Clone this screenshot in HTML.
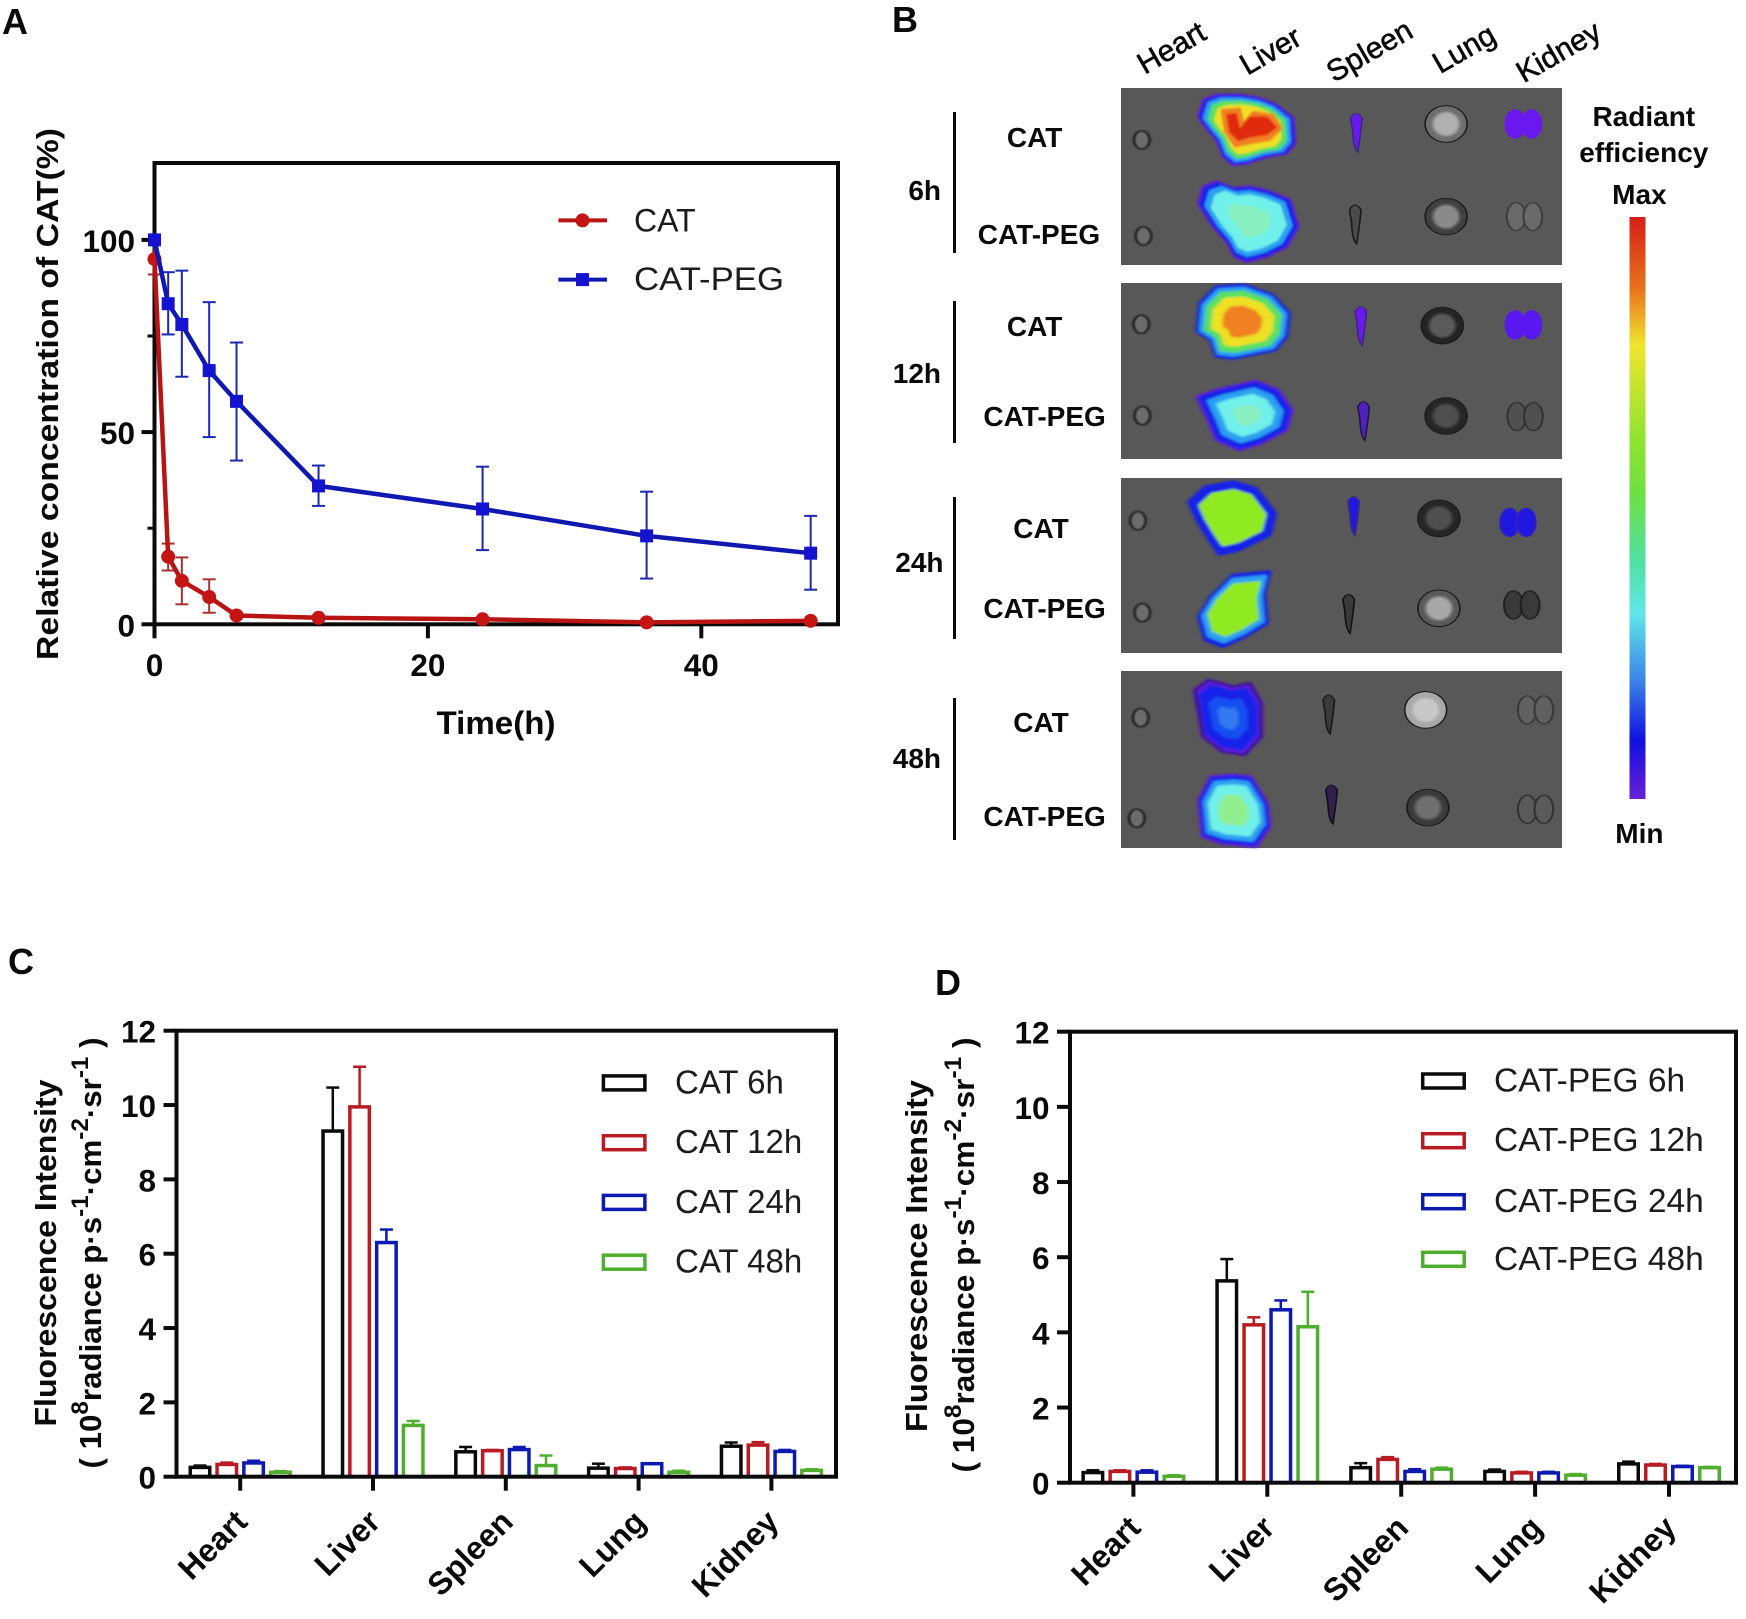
<!DOCTYPE html>
<html lang="en">
<head>
<meta charset="utf-8">
<title>CAT and CAT-PEG biodistribution figure</title>
<style>
html,body{margin:0;padding:0;background:#fff;width:1746px;height:1619px;overflow:hidden}
svg{display:block}
text{font-family:"Liberation Sans",Arial,sans-serif;fill:#0a0a0a}
.b{font-weight:700}
.tick{font-weight:700;font-size:31.5px}
.row{font-weight:700;font-size:28px;text-anchor:middle}
.tm{font-weight:700;font-size:28px;text-anchor:end}
.org{font-size:30px;text-anchor:middle;stroke:#0a0a0a;stroke-width:0.6px}
.let{font-weight:700;font-size:36px}
.leg{fill:#1c1c1c}
.ttl{font-weight:700;font-size:31px;text-anchor:middle}
</style>
</head>
<body>
<svg id="fig" xmlns="http://www.w3.org/2000/svg" width="1746" height="1619" viewBox="0 0 1746 1619">
  <defs>
    <linearGradient id="cbar" x1="0" y1="0" x2="0" y2="1">
      <stop offset="0" stop-color="#d42018"/>
      <stop offset="0.12" stop-color="#e8701c"/>
      <stop offset="0.22" stop-color="#f0e430"/>
      <stop offset="0.38" stop-color="#90e430"/>
      <stop offset="0.47" stop-color="#70e040"/>
      <stop offset="0.59" stop-color="#50e0a0"/>
      <stop offset="0.68" stop-color="#60e8e8"/>
      <stop offset="0.80" stop-color="#3a80e8"/>
      <stop offset="0.90" stop-color="#1010e0"/>
      <stop offset="1" stop-color="#6a20d8"/>
    </linearGradient>
    <filter id="soft" x="-15%" y="-15%" width="130%" height="130%"><feGaussianBlur stdDeviation="3"/></filter>
    <filter id="softer" x="-30%" y="-30%" width="160%" height="160%"><feGaussianBlur stdDeviation="1.5"/></filter>
  </defs>

  <text class="let" x="2" y="34">A</text>
  <text class="let" x="892" y="32">B</text>
  <text class="let" x="8" y="974">C</text>
  <text class="let" x="935" y="995">D</text>

  <g id="panelA"></g>

  <g id="panelB">
    <rect x="1121" y="88" width="441" height="177" fill="#585858"/>
    <rect x="1121" y="283" width="441" height="176" fill="#585858"/>
    <rect x="1121" y="478" width="441" height="175" fill="#585858"/>
    <rect x="1121" y="671" width="441" height="177" fill="#585858"/>
    <g id="organs1" transform="translate(880,0) scale(0.5523,0.3333)"></g>
    <g id="organs2" transform="translate(880,460) scale(0.5523,0.3333)"></g>
    <g id="organs0" transform="translate(1110,0) scale(0.3333)"></g>

    <text class="org" transform="translate(1176.5,56.5) rotate(-30)">Heart</text>
    <text class="org" transform="translate(1275.5,59.5) rotate(-30)">Liver</text>
    <text class="org" transform="translate(1374.5,59.5) rotate(-30)">Spleen</text>
    <text class="org" transform="translate(1469,57.5) rotate(-30)">Lung</text>
    <text class="org" transform="translate(1563.5,60.5) rotate(-30)">Kidney</text>

    <text class="row" x="1034.6" y="147">CAT</text>
    <text class="row" x="1039" y="244">CAT-PEG</text>
    <text class="row" x="1034.6" y="336">CAT</text>
    <text class="row" x="1044.6" y="426">CAT-PEG</text>
    <text class="row" x="1041" y="538">CAT</text>
    <text class="row" x="1044.6" y="618">CAT-PEG</text>
    <text class="row" x="1041" y="732">CAT</text>
    <text class="row" x="1044.6" y="826">CAT-PEG</text>

    <text class="tm" x="941" y="200">6h</text>
    <text class="tm" x="941" y="383">12h</text>
    <text class="tm" x="943.5" y="572">24h</text>
    <text class="tm" x="941" y="768">48h</text>

    <rect x="953" y="112" width="3" height="141" fill="#0a0a0a"/>
    <rect x="953" y="301" width="3" height="142" fill="#0a0a0a"/>
    <rect x="953" y="497" width="3" height="142" fill="#0a0a0a"/>
    <rect x="953" y="698" width="3" height="142" fill="#0a0a0a"/>

    <text class="row" x="1643.8" y="126">Radiant</text>
    <text class="row" x="1643.8" y="162">efficiency</text>
    <text class="row" x="1639.4" y="204">Max</text>
    <rect x="1629.5" y="217" width="16" height="582" fill="url(#cbar)"/>
    <text class="row" x="1639.4" y="843">Min</text>
  </g>

  <g id="panelC"></g>
  <g id="panelD"></g>
</svg>

<script>
// ---------- Panel A data ----------
const timesA = [0, 1, 2, 4, 6, 12, 24, 36, 48];
const catValues = [95, 17.6, 11.3, 7.1, 2.3, 1.7, 1.3, 0.5, 0.9];
const catUpper = [99, 21, 17.4, 11.7, 2.8, 2.1, 1.6, 0.7, 1.1];
const catLower = [91, 14, 5.2, 3, 1.9, 1.4, 1.0, 0.3, 0.7];
const pegValues = [100, 83.4, 78, 66, 58, 36, 30, 23, 18.5];
const pegUpper = [100.5, 91.6, 92, 83.8, 73.3, 41.3, 41, 34.5, 28.2];
const pegLower = [99.5, 75.4, 64.4, 48.7, 42.6, 30.8, 19.3, 11.9, 9];
const xTicksA = [0, 20, 40];
const yTicksA = [0, 50, 100];
const yMinorTicksA = [25, 75];
const seriesNamesA = ["CAT", "CAT-PEG"];

// ---------- Panels C / D data ----------
const organs = ["Heart", "Liver", "Spleen", "Lung", "Kidney"];
const barTicks = [0, 2, 4, 6, 8, 10, 12];
const legendC = ["CAT 6h", "CAT 12h", "CAT 24h", "CAT 48h"];
const legendD = ["CAT-PEG 6h", "CAT-PEG 12h", "CAT-PEG 24h", "CAT-PEG 48h"];
const cat6h = [0.25, 9.3, 0.67, 0.23, 0.82];
const cat12h = [0.33, 9.95, 0.7, 0.22, 0.85];
const cat24h = [0.37, 6.3, 0.73, 0.35, 0.68];
const cat48h = [0.12, 1.38, 0.3, 0.12, 0.17];
const cat6hTop = [0.3, 10.47, 0.8, 0.35, 0.92];
const cat12hTop = [0.38, 11.03, 0.72, 0.25, 0.93];
const cat24hTop = [0.43, 6.65, 0.8, 0.36, 0.72];
const cat48hTop = [0.15, 1.5, 0.57, 0.16, 0.2];
const peg6h = [0.27, 5.37, 0.4, 0.3, 0.5];
const peg12h = [0.3, 4.2, 0.62, 0.26, 0.47];
const peg24h = [0.28, 4.6, 0.3, 0.26, 0.43];
const peg48h = [0.17, 4.15, 0.36, 0.2, 0.4];
const peg6hTop = [0.33, 5.95, 0.52, 0.35, 0.56];
const peg12hTop = [0.33, 4.4, 0.68, 0.29, 0.5];
const peg24hTop = [0.33, 4.85, 0.36, 0.29, 0.45];
const peg48hTop = [0.2, 5.08, 0.4, 0.23, 0.42];

const NS = "http://www.w3.org/2000/svg";
const INK = "#0a0a0a";
const RED = "#b81c22", BLUE = "#0c1ab0", GREEN = "#4fae2e";
const barColors = [INK, RED, BLUE, GREEN];

function mk(tag, attrs, parent, txt) {
  const el = document.createElementNS(NS, tag);
  for (const k in attrs) el.setAttribute(k, attrs[k]);
  if (txt !== undefined) el.textContent = txt;
  parent.appendChild(el);
  return el;
}
function line(parent, x1, y1, x2, y2, color, w, name) {
  const el = mk("line", {x1: x1, y1: y1, x2: x2, y2: y2, stroke: color, "stroke-width": w}, parent);
  
  
  return el;
}

// ---------- Panel A ----------
(function () {
  const g = document.getElementById("panelA");
  const L = 154.5, R = 838, T = 163, B = 624.3;
  const xA = t => L + t * (R - L) / 50;
  const yA = v => B - v * (B - T) / 120;

  const frame = mk("rect", {x: L, y: T, width: R - L, height: B - T, fill: "none", stroke: INK, "stroke-width": 4}, g);
  
  

  yTicksA.forEach(v => {
    line(g, L - 13, yA(v), L, yA(v), INK, 4, 'y-tick');
    const t = mk("text", {class: "tick", x: 135, y: yA(v) + 12, "text-anchor": "end"}, g, String(v));
    
    
  });
  yMinorTicksA.forEach(v => line(g, L - 7, yA(v), L, yA(v), INK, 3, 'y-minor-tick'));
  xTicksA.forEach(v => {
    line(g, xA(v), B, xA(v), B + 14, INK, 4, 'x-tick');
    const t = mk("text", {class: "tick", x: xA(v), y: 676, "text-anchor": "middle"}, g, String(v));
    
    
  });

  const xt = mk("text", {class: "b", x: 496, y: 734, "font-size": 32, "text-anchor": "middle", textLength: 119, lengthAdjust: "spacingAndGlyphs"}, g, "Time(h)");
  
  
  const yt = mk("text", {class: "b", transform: "translate(58,394) rotate(-90)", "font-size": 31, "text-anchor": "middle", textLength: 532, lengthAdjust: "spacingAndGlyphs"}, g, "Relative concentration of CAT(%)");
  
  

  function series(vals, up, lo, color, mark, errColor, isSquare, key) {
    timesA.forEach((t, i) => {
      const x = xA(t);
      line(g, x, yA(lo[i]), x, yA(up[i]), errColor, 2, key + '-error-bar');
      line(g, x - 6.5, yA(up[i]), x + 6.5, yA(up[i]), errColor, 2, key + '-error-cap');
      line(g, x - 6.5, yA(lo[i]), x + 6.5, yA(lo[i]), errColor, 2, key + '-error-cap');
    });
    const pts = timesA.map((t, i) => xA(t) + "," + yA(vals[i])).join(" ");
    const pl = mk("polyline", {points: pts, fill: "none", stroke: color, "stroke-width": 4.5, "stroke-linejoin": "round"}, g);
    
    
    timesA.forEach((t, i) => {
      const m = isSquare
        ? mk("rect", {x: xA(t) - 6.5, y: yA(vals[i]) - 6.5, width: 13, height: 13, fill: mark}, g)
        : mk("circle", {cx: xA(t), cy: yA(vals[i]), r: 7, fill: mark}, g);
      
      
    });
  }
  series(catValues, catUpper, catLower, "#b81414", "#c41414", "#a83030", false, 'cat');
  series(pegValues, pegUpper, pegLower, "#1018b0", "#1414d0", "#1c28b0", true, 'cat-peg');

  // legend
  line(g, 558.4, 220.4, 607, 220.4, "#b81414", 4, 'legend-line-cat');
  const lc = mk("circle", {cx: 582.5, cy: 220.4, r: 7, fill: "#c41414"}, g);
  
  
  const t1 = mk("text", {class: "leg", x: 634, y: 231.3, "font-size": 32}, g, seriesNamesA[0]);
  
  
  line(g, 558.4, 279.6, 607, 279.6, "#1018b0", 4, 'legend-line-cat-peg');
  const ls = mk("rect", {x: 576, y: 273.1, width: 13, height: 13, fill: "#1414d0"}, g);
  
  
  const t2 = mk("text", {class: "leg", x: 634, y: 290, "font-size": 32, textLength: 150, lengthAdjust: "spacingAndGlyphs"}, g, seriesNamesA[1]);
  
  
})();

// ---------- Panels C and D ----------
function barChart(g, o) {
  const yS = v => o.B - v * (o.B - o.T) / 12;
  const xS = (c, s) => o.tick0 + c * o.step + (s - 1.5) * o.pitch;
  o.values.forEach((vals, s) => {
    vals.forEach((v, c) => {
      const x = xS(c, s);
      const top = o.tops[s][c];
      line(g, x, yS(v), x, yS(top), barColors[s], 2.5, 'error-bar');
      line(g, x - 6.5, yS(top), x + 6.5, yS(top), barColors[s], 2.5, 'error-cap');
      const r = mk("rect", {x: x - 9.75, y: yS(v), width: 19.5, height: o.B - yS(v), fill: "#fff", stroke: barColors[s], "stroke-width": 3.5}, g);
      
      
    });
  });
  const fr = mk("rect", {x: o.L, y: o.T, width: o.R - o.L, height: o.B - o.T, fill: "none", stroke: INK, "stroke-width": 4}, g);
  
  

  barTicks.forEach(v => {
    line(g, o.L - 13, yS(v), o.L, yS(v), INK, 4, 'y-tick');
    const t = mk("text", {class: "tick", x: o.L - 20.5, y: yS(v) + 12, "text-anchor": "end"}, g, String(v));
    
    
  });
  organs.forEach((name, c) => {
    const x = o.tick0 + c * o.step;
    line(g, x, o.B, x, o.B + 14, INK, 4, 'x-tick');
    const t = mk("text", {class: "b", "font-size": 32, "text-anchor": "end", transform: "translate(" + (x + 9) + "," + (o.B + 47) + ") rotate(-45)"}, g, name);
    
    
  });
  o.legend.forEach((name, s) => {
    const r = mk("rect", {x: o.legX, y: o.legY[s] - 7, width: 41.5, height: 14, fill: "#fff", stroke: barColors[s], "stroke-width": 3.5}, g);
    
    
    const t = mk("text", {class: "leg", x: o.legTx, y: o.legY[s] + 10.5, "font-size": o.legSize}, g, name);
    
    
  });

  const t1 = mk("text", {class: "ttl", transform: "translate(" + o.t1x + "," + o.t1y + ") rotate(-90)", textLength: o.t1len, lengthAdjust: "spacingAndGlyphs"}, g, "Fluorescence Intensity");
  
  
  const t2 = mk("text", {class: "ttl", transform: "translate(" + o.t2x + "," + o.t2y + ") rotate(-90)", textLength: o.t2len, lengthAdjust: "spacingAndGlyphs"}, g);
  
  
  const parts = [["( 10", 0], ["8", 1], ["radiance p·s", 0], ["-1", 1], ["·cm", 0], ["-2", 1], ["·sr", 0], ["-1", 1], [" )", 0]];
  parts.forEach(p => {
    const sp = mk("tspan", p[1] ? {"baseline-shift": "super", "font-size": 24} : {}, t2, p[0]);
    
    
  });
}

barChart(document.getElementById("panelC"), {
  L: 176.5, R: 836, T: 1030.7, B: 1476.7, tick0: 240.2, step: 132.8, pitch: 26.8,
  values: [cat6h, cat12h, cat24h, cat48h],
  tops: [cat6hTop, cat12hTop, cat24hTop, cat48hTop],
  legend: legendC, legX: 603.4, legTx: 675, legSize: 33, legY: [1082.9, 1142.7, 1202.4, 1262.2],
  t1x: 56, t2x: 101, t1y: 1253, t2y: 1253, t1len: 347, t2len: 431
});
barChart(document.getElementById("panelD"), {
  L: 1070, R: 1736, T: 1031.7, B: 1482.7, tick0: 1133.4, step: 133.9, pitch: 27,
  values: [peg6h, peg12h, peg24h, peg48h],
  tops: [peg6hTop, peg12hTop, peg24hTop, peg48hTop],
  legend: legendD, legX: 1422.7, legTx: 1494, legSize: 33.5, legY: [1081, 1140.7, 1201.7, 1259.3],
  t1x: 927, t2x: 974, t1y: 1256, t2y: 1255, t1len: 352, t2len: 435
});

// ---------- Panel B illustration ----------
(function () {
  const g0 = document.getElementById("organs0");
  const g1 = document.getElementById("organs1");
  const g2 = document.getElementById("organs2");
  const P = "#5a1fe0", B1 = "#1420e8", C1 = "#2aa0f0", CY = "#70f0e8", MINT = "#88f0c0",
        G1 = "#5ae060", Y1 = "#eee020", O1 = "#f08020", R1 = "#e02a10", LIME = "#90ea20";

  function liver(parent, pts, cx, cy, layers, edge, extras) {
    const gr = mk("g", {filter: "url(#soft)"}, parent);
    
    
    const p = pts.map(a => a.join(",")).join(" ");
    layers.forEach(l => {
      const tr = "translate(" + cx + "," + cy + ") scale(" + l[1] + ") translate(" + (-cx) + "," + (-cy) + ")";
      const poly = mk("polygon", {points: p, fill: l[0], stroke: l[0], "stroke-width": 8, "stroke-linejoin": "round", transform: tr}, gr);
      
      
    });
    (extras || []).forEach(x => {
      const poly = mk("polygon", {points: x[1].map(a => a.join(",")).join(" "), fill: x[0], stroke: x[0], "stroke-width": 6, "stroke-linejoin": "round"}, gr);
      
      
    });
    if (edge) {
      const e = mk("polygon", {points: p, fill: "none", stroke: edge, "stroke-width": 4, "stroke-linejoin": "round"}, gr);
      
      
    }
  }
  function heart(parent, x, y) {
    const e = mk("ellipse", {cx: x, cy: y, rx: 14, ry: 27, fill: "#6c6c6c", stroke: "#2c2c2c", "stroke-width": 6, filter: "url(#softer)"}, parent);
    
    
  }
  function spleen(parent, x, y, fill, stroke) {
    const d = "M" + (x - 10) + "," + (y - 40) + " Q" + x + "," + (y - 70) + " " + (x + 11) + "," + (y - 40) +
      " Q" + (x + 9) + "," + y + " " + (x + 3) + "," + (y + 62) + " Q" + (x - 5) + "," + (y + 50) + " " + (x - 6) + "," + y + " Z";
    const e = mk("path", {d: d, fill: fill, stroke: stroke, "stroke-width": 3}, parent);
    
    
  }
  function lung(parent, x, y, fill, inner) {
    const e = mk("ellipse", {cx: x, cy: y, rx: 38, ry: 55, fill: fill, stroke: "#1c1c1c", "stroke-width": 3}, parent);
    
    
    const i = mk("ellipse", {cx: x, cy: y, rx: 24, ry: 36, fill: inner, filter: "url(#soft)"}, parent);
    
    
  }
  function kidney(parent, x, y, fill, stroke) {
    [-15, 15].forEach(d => {
      const e = mk("ellipse", {cx: x + d, cy: y, rx: 17, ry: 42, fill: fill, stroke: stroke, "stroke-width": 4}, parent);
      
      
    });
  }

  // 6h rows, traced at 3x around the hottest detail
  liver(g0, [[265,350],[280,300],[320,285],[390,285],[450,295],[500,315],[550,355],[555,430],[530,460],[470,470],[410,490],[370,495],[340,470],[320,420],[290,385]], 420, 385,
    [[P,1],[B1,.95],[C1,.89],[G1,.8],[Y1,.68]], null,
    [[O1, [[335,330],[390,325],[400,370],[430,335],[490,345],[515,385],[480,420],[420,430],[375,440],[345,395]]],
     [R1, [[352,345],[378,342],[388,392],[420,352],[470,352],[498,382],[470,402],[420,410],[385,420],[360,395]]]]);
  liver(g0, [[265,610],[280,560],[320,545],[370,565],[420,560],[480,575],[540,600],[565,680],[530,740],[470,770],[410,785],[375,770],[350,725],[310,680]], 420, 660,
    [[P,1],[B1,.95],[C1,.86],[CY,.74],[MINT,.42]]);

  // 12h rows
  liver(g1, [[575,995],[580,910],[610,860],[660,855],[710,885],[740,940],[735,1010],[715,1050],[640,1075],[610,1070],[600,1020]], 655, 965,
    [[B1,1],[C1,.92],[G1,.82],[Y1,.66],[O1,.42]]);
  liver(g1, [[575,1190],[610,1170],[680,1143],[720,1170],[745,1230],[735,1290],[690,1330],[650,1350],[610,1320],[595,1260]], 665, 1245,
    [[P,1],[B1,.94],[C1,.78],[CY,.6],[MINT,.3]]);

  heart(g1, 474, 420); heart(g1, 477, 708); heart(g1, 473, 973); heart(g1, 475, 1247);
  spleen(g1, 862, 395, "#6a18f0", "#3a2a80"); spleen(g1, 860, 670, "#4a4a4a", "#1a1a1a");
  spleen(g1, 870, 975, "#6a18f0", "#3a2a80"); spleen(g1, 875, 1260, "#5020c0", "#201a40");
  lung(g1, 1025, 372, "#6e6e6e", "#b0b0b0"); lung(g1, 1025, 650, "#404040", "#8a8a8a");
  lung(g1, 1018, 977, "#242424", "#5a5a5a"); lung(g1, 1025, 1248, "#262626", "#505050");
  kidney(g1, 1165, 372, "#6a18f0", "#6a18f0"); kidney(g1, 1167, 650, "#6a6a6a", "#3f3f3f");
  kidney(g1, 1165, 975, "#5a18f0", "#5a18f0"); kidney(g1, 1168, 1250, "#505050", "#333");

  // 24h and 48h rows
  liver(g2, [[560,125],[590,80],[640,65],[680,85],[715,160],[705,225],[650,270],[615,283],[595,235],[575,180]], 640, 170,
    [[B1,1],[LIME,.76]]);
  liver(g2, [[578,470],[600,410],[640,345],[705,335],[695,400],[700,490],[660,530],[620,560],[590,540]], 640, 445,
    [[B1,1],[C1,.88],[LIME,.72]]);
  liver(g2, [[570,690],[595,660],[640,680],[670,670],[690,730],[690,830],[660,885],[620,875],[585,830]], 630, 775,
    [[P,1],[B1,.84],["#1850f0",.55],["#3078f0",.3]], "#201030");
  liver(g2, [[578,1020],[600,950],[640,945],[670,950],[700,1030],[705,1100],[680,1160],[620,1150],[585,1130]], 640, 1050,
    [[P,1],[B1,.94],[C1,.84],[CY,.7],["#90f090",.42]]);

  heart(g2, 467, 182); heart(g2, 475, 458); heart(g2, 472, 773); heart(g2, 465, 1075);
  spleen(g2, 857, 165, "#2018e0", "#3a2a80"); spleen(g2, 848, 458, "#3a3a3a", "#111");
  spleen(g2, 812, 760, "#3a3a3a", "#1a1a1a"); spleen(g2, 817, 1030, "#302050", "#111");
  lung(g2, 1012, 175, "#262626", "#505050"); lung(g2, 1012, 445, "#5a5a5a", "#a8a8a8");
  lung(g2, 988, 750, "#a8a8a8", "#c8c8c8"); lung(g2, 992, 1043, "#3a3a3a", "#707070");
  kidney(g2, 1155, 187, "#2018e0", "#3020c0"); kidney(g2, 1162, 435, "#3a3a3a", "#222");
  kidney(g2, 1187, 750, "#606060", "#3a3a3a"); kidney(g2, 1187, 1048, "#5a5a5a", "#333");
})();
</script>
</body>
</html>
